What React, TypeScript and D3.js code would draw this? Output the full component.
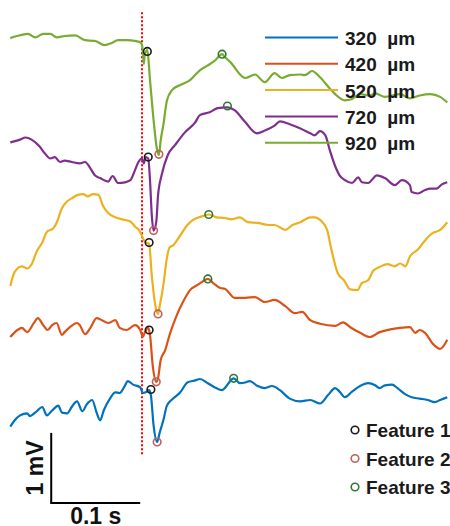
import React from 'react';
import * as d3 from 'd3';

// ---- Data (time in ms, voltage in mV relative to each trace's baseline) ----
const seriesNames = ['320  µm', '420  µm', '520  µm', '720  µm', '920  µm'];
const seriesColors = ['#0072BD', '#D95319', '#EDB120', '#7E2F8E', '#77AC30'];
const seriesOffsets = [1.51, 2.8, 3.94, 5.51, 6.94]; // mV stacking offsets

const trace320: [number, number][] = [
  [-148, -0.09], [-143, 0], [-137, 0.07], [-129, 0.1], [-126, 0.06], [-120, 0.11], [-112, 0.19],
  [-107, 0.07], [-101, 0.14], [-94, 0.21], [-90, 0.11], [-84, 0.1], [-79, 0.19], [-73, 0.27],
  [-67, 0.13], [-62, 0.23], [-56, 0.29], [-51, 0.11], [-47, 0], [-43, 0.14], [-36, 0.31],
  [-30, 0.4], [-25, 0.39], [-19, 0.5], [-16, 0.56], [-10, 0.51], [-2, 0.47], [1, 0.39],
  [4, 0.4], [8, 0.43], [10, 0.36], [13, -0.07], [17, -0.31], [20, -0.17], [24, 0], [28, 0.21],
  [35, 0.31], [43, 0.4], [51, 0.54], [60, 0.57], [65, 0.59], [74, 0.53], [82, 0.47], [90, 0.43],
  [93, 0.46], [99, 0.56], [103, 0.6], [110, 0.53], [116, 0.54], [121, 0.56], [130, 0.49],
  [138, 0.46], [146, 0.49], [155, 0.43], [166, 0.31], [178, 0.27], [189, 0.29], [200, 0.24],
  [209, 0.36], [217, 0.46], [222, 0.41], [228, 0.33], [236, 0.41], [245, 0.49], [254, 0.53],
  [262, 0.5], [267, 0.46], [273, 0.5], [281, 0.51], [287, 0.46], [296, 0.37], [303, 0.33],
  [312, 0.31], [321, 0.29], [329, 0.26], [335, 0.29], [343, 0.33],
];

const trace420: [number, number][] = [
  [-148, -0.1], [-140, 0], [-135, 0.03], [-129, -0.03], [-122, 0.09], [-117, 0.17], [-111, 0.07],
  [-106, 0], [-101, 0.07], [-96, 0.1], [-90, -0.07], [-87, -0.03], [-81, 0.04], [-73, 0.1],
  [-70, 0.07], [-64, -0.06], [-58, 0.03], [-51, 0.17], [-45, 0.14], [-38, 0.1], [-30, 0.14],
  [-25, 0.03], [-17, 0], [-8, 0.07], [-2, 0], [1, -0.1], [3, -0.04], [7, 0.03], [9, -0.07],
  [12, -0.5], [16, -0.74], [18, -0.69], [21, -0.43], [26, -0.29], [31, -0.07], [39, 0.21],
  [46, 0.4], [54, 0.57], [62, 0.64], [69, 0.7], [74, 0.73], [80, 0.67], [88, 0.6], [93, 0.59],
  [104, 0.46], [116, 0.46], [127, 0.47], [138, 0.4], [149, 0.43], [161, 0.34], [172, 0.24],
  [180, 0.26], [189, 0.14], [200, 0.09], [217, 0.06], [226, 0.11], [234, 0.04], [245, -0.04],
  [256, -0.1], [267, -0.03], [279, 0.01], [290, 0.03], [301, 0.04], [307, -0.04], [312, 0],
  [318, -0.04], [327, -0.2], [335, -0.27], [343, -0.14],
];

const trace520: [number, number][] = [
  [-148, -0.51], [-143, -0.31], [-135, -0.23], [-129, -0.26], [-124, -0.2], [-118, -0.01],
  [-112, 0.11], [-107, 0.26], [-100, 0.31], [-96, 0.39], [-90, 0.6], [-84, 0.7], [-79, 0.74],
  [-72, 0.79], [-66, 0.8], [-61, 0.77], [-55, 0.8], [-49, 0.79], [-44, 0.64], [-38, 0.53],
  [-30, 0.47], [-22, 0.44], [-13, 0.41], [-8, 0.34], [-2, 0.26], [1, 0.17], [4, 0.11], [8, 0.09],
  [11, -0.36], [15, -0.79], [18, -0.91], [20, -0.79], [24, -0.5], [28, -0.11], [31, 0.04],
  [35, 0.07], [43, 0.21], [51, 0.36], [57, 0.43], [69, 0.49], [75, 0.51], [84, 0.47], [93, 0.46],
  [101, 0.44], [110, 0.47], [119, 0.4], [130, 0.39], [142, 0.36], [149, 0.36], [161, 0.29],
  [169, 0.36], [178, 0.4], [189, 0.47], [194, 0.47], [202, 0.41], [208, 0.29], [213, 0],
  [220, -0.33], [227, -0.43], [234, -0.56], [242, -0.57], [247, -0.47], [254, -0.43],
  [260, -0.29], [267, -0.24], [276, -0.2], [284, -0.23], [290, -0.19], [296, -0.23],
  [301, -0.09], [310, 0.01], [318, 0.14], [326, 0.24], [335, 0.29], [343, 0.4],
];

const trace720: [number, number][] = [
  [-148, -0.03], [-137, 0.01], [-131, 0.04], [-124, 0.01], [-115, -0.09], [-109, -0.19],
  [-103, -0.26], [-98, -0.24], [-92, -0.31], [-87, -0.29], [-79, -0.31], [-70, -0.33],
  [-64, -0.31], [-58, -0.4], [-53, -0.5], [-47, -0.54], [-38, -0.59], [-33, -0.51], [-27, -0.61],
  [-19, -0.6], [-13, -0.57], [-8, -0.43], [-4, -0.31], [0, -0.26], [2, -0.33], [4, -0.24],
  [7, -0.26], [9, -0.57], [11, -1.07], [13, -1.29], [16, -1.17], [18, -0.79], [22, -0.5],
  [29, -0.21], [37, -0.07], [48, 0.11], [60, 0.26], [65, 0.36], [76, 0.4], [85, 0.46], [96, 0.47],
  [104, 0.43], [116, 0.26], [129, 0.1], [138, 0.14], [149, 0.21], [155, 0.27], [166, 0.23],
  [178, 0.17], [189, 0.1], [194, 0.07], [200, 0.13], [206, 0.07], [211, -0.14], [218, -0.4],
  [222, -0.5], [228, -0.57], [236, -0.61], [243, -0.53], [247, -0.6], [254, -0.61], [264, -0.5],
  [273, -0.54], [284, -0.64], [292, -0.57], [301, -0.64], [303, -0.74], [310, -0.76],
  [318, -0.71], [324, -0.69], [331, -0.69], [337, -0.63], [343, -0.6],
];

const trace920: [number, number][] = [
  [-148, 0.03], [-137, 0.07], [-128, 0.09], [-120, 0.04], [-111, 0.09], [-103, 0.09], [-96, 0.04],
  [-87, 0.06], [-75, 0.07], [-64, 0], [-53, -0.01], [-42, -0.07], [-34, -0.04], [-27, 0],
  [-17, 0], [-8, -0.01], [-2, -0.03], [0, -0.07], [1, -0.17], [2, -0.34], [3, -0.21], [6, -0.14],
  [9, -0.57], [13, -1.14], [17, -1.57], [19, -1.64], [21, -1.43], [24, -1.21], [28, -0.86],
  [34, -0.71], [43, -0.64], [54, -0.57], [65, -0.43], [74, -0.36], [82, -0.29], [90, -0.2],
  [93, -0.24], [99, -0.31], [116, -0.54], [127, -0.49], [138, -0.6], [149, -0.47], [157, -0.54],
  [166, -0.5], [178, -0.49], [183, -0.5], [191, -0.44], [200, -0.53], [211, -0.69], [217, -0.77],
  [228, -0.86], [236, -0.84], [245, -0.77], [256, -0.79], [262, -0.76], [273, -0.81], [290, -0.77],
  [301, -0.83], [312, -0.79], [324, -0.77], [335, -0.81], [343, -0.89],
];

const traces = [trace320, trace420, trace520, trace720, trace920];

// Feature points per series (same order as series), [ms, mV]
const featureNames = ['Feature 1', 'Feature 2', 'Feature 3'];
const featureColors = ['#1a1a1a', '#c0615c', '#2e7a35'];
const feature1: [number, number][] = [[10, 0.44], [8, 0], [8, 0.11], [7, -0.24], [6, -0.16]];
const feature2: [number, number][] = [[17, -0.31], [16, -0.74], [18, -0.91], [13, -1.29], [19, -1.63]];
const feature3: [number, number][] = [[103, 0.6], [74, 0.73], [75, 0.51], [96, 0.49], [90, -0.2]];
const features = [feature1, feature2, feature3];

// Scale bar values
const scaleBarTime = 100; // ms
const scaleBarVolt = 1; // mV
const scaleBarLabels = ['0.1 s', '1 mV'];

export default function App() {
  const W = 450;
  const H = 526;
  const x = d3.scaleLinear().domain([-100, 100]).range([53, 231]);
  const y = d3.scaleLinear().domain([0, 7.5]).range([526, 1]);

  const font = '"Liberation Sans", Arial, sans-serif';

  const paths = traces.map((tr, i) =>
    d3
      .line<[number, number]>()
      .x((d) => x(d[0]))
      .y((d) => y(d[1] + seriesOffsets[i]))
      .curve(d3.curveMonotoneX)(tr) as string
  );

  const sbT0 = -102;
  const sbV0 = 0.33;

  const legendY0 = 37.5;
  const legendStep = 26.3;
  const featY0 = 430;
  const featStep = 28.5;

  return (
    <svg
      width={W}
      height={H}
      style={{ position: 'absolute', left: 0, top: 0, background: '#fff' }}
      fontFamily={font}
    >
      <rect width={W} height={H} fill="#fff" />
      {/* onset line */}
      <line
        x1={x(0)}
        x2={x(0)}
        y1={y(7.34)}
        y2={y(1.01)}
        stroke="#ff0000"
        strokeWidth={2}
        strokeDasharray="2,2"
      />
      {paths.map((p, i) => (
        <path key={i} d={p} fill="none" stroke={seriesColors[i]} strokeWidth={2.2} strokeLinejoin="round" />
      ))}
      {features.map((pts, f) =>
        pts.map((d, i) => (
          <circle
            key={`${f}-${i}`}
            cx={x(d[0])}
            cy={y(d[1] + seriesOffsets[i])}
            r={3.8}
            fill="none"
            stroke={featureColors[f]}
            strokeWidth={1.6}
          />
        ))
      )}
      {/* series legend */}
      {seriesNames.map((n, i) => (
        <g key={n}>
          <line
            x1={265}
            x2={338}
            y1={legendY0 + i * legendStep}
            y2={legendY0 + i * legendStep}
            stroke={seriesColors[i]}
            strokeWidth={2}
          />
          <text
            x={345}
            y={legendY0 + i * legendStep + 7.5}
            fontSize={19}
            fontWeight="bold"
            fill="#1a1a1a"
            style={{ whiteSpace: 'pre' }}
          >
            {n}
          </text>
        </g>
      ))}
      {/* feature legend */}
      {featureNames.map((n, i) => (
        <g key={n}>
          <circle
            cx={355}
            cy={featY0 + i * featStep}
            r={3.8}
            fill="none"
            stroke={featureColors[i]}
            strokeWidth={1.6}
          />
          <text x={366} y={featY0 + i * featStep + 7} fontSize={19} fontWeight="bold" fill="#1a1a1a">
            {n}
          </text>
        </g>
      ))}
      {/* scale bar */}
      <line
        x1={x(sbT0)}
        x2={x(sbT0)}
        y1={y(sbV0)}
        y2={y(sbV0 + scaleBarVolt)}
        stroke="#000"
        strokeWidth={2}
      />
      <line
        x1={x(sbT0) - 1}
        x2={x(sbT0 + scaleBarTime)}
        y1={y(sbV0)}
        y2={y(sbV0)}
        stroke="#000"
        strokeWidth={2}
      />
      <text
        x={(x(sbT0) + x(sbT0 + scaleBarTime)) / 2}
        y={524}
        fontSize={23}
        fontWeight="bold"
        textAnchor="middle"
        fill="#111"
      >
        {scaleBarLabels[0]}
      </text>
      <text
        transform={`translate(${x(sbT0) - 8},${y(sbV0 + scaleBarVolt / 2)}) rotate(-90)`}
        fontSize={23}
        fontWeight="bold"
        textAnchor="middle"
        fill="#111"
      >
        {scaleBarLabels[1]}
      </text>
    </svg>
  );
}
